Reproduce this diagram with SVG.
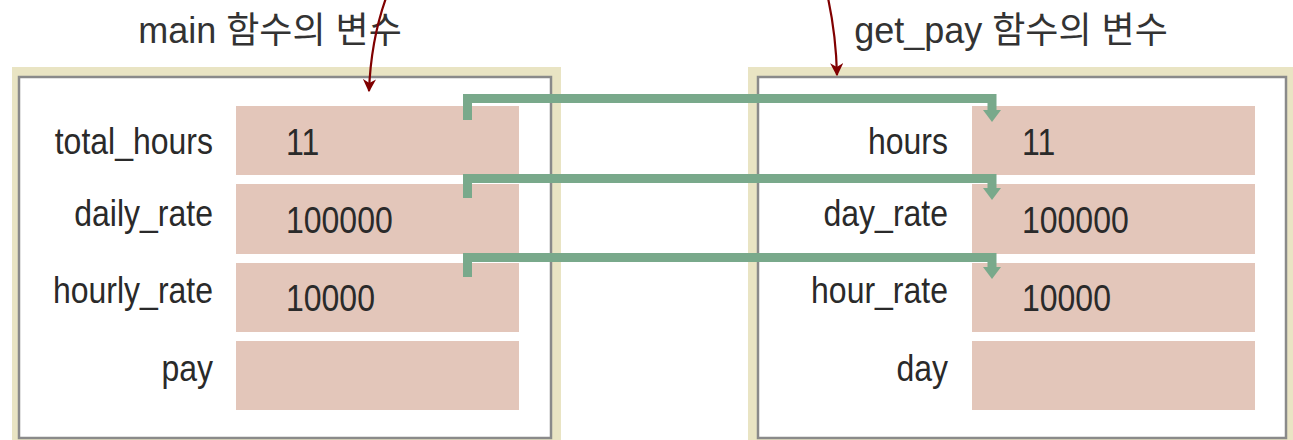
<svg xmlns="http://www.w3.org/2000/svg" width="1293" height="440" viewBox="0 0 1293 440">
<style>
.frame{fill:#e9e4c3}
.inner{fill:#ffffff;stroke:#8a8a8a;stroke-width:2.5}
.box{fill:#e3c6ba}
.title{font-family:"Liberation Sans","Noto Sans CJK KR",sans-serif;font-size:36px;fill:#333333;text-anchor:middle}
.lbl{font-family:"Liberation Sans",sans-serif;font-size:32px;fill:#2a2a2a;text-anchor:end}
.val{font-family:"Liberation Sans",sans-serif;font-size:32px;fill:#2a2a2a}
.link{fill:none;stroke:#79a98b;stroke-width:9;stroke-linejoin:miter}
.head{fill:#79a98b}
.red{fill:none;stroke:#800000;stroke-width:2.2}
</style>
<defs>
<marker id="redhead" viewBox="0 0 10 10" refX="9" refY="5" markerWidth="6" markerHeight="6" markerUnits="strokeWidth" orient="auto">
<path d="M0,0 L10,5 L0,10 L3,5 Z" fill="#800000"/>
</marker>
</defs>
<g id="title-main"><text class="title" x="270" y="43">main 함수의 변수</text></g>
<g id="title-getpay"><text class="title" x="1011" y="43">get_pay 함수의 변수</text></g>
<g id="panel-main">
<rect class="frame" x="12" y="67" width="549" height="380"/>
<rect class="inner" x="19" y="77" width="532" height="361"/>
</g>
<g id="panel-getpay">
<rect class="frame" x="748" y="67" width="550" height="380"/>
<rect class="inner" x="758" y="77" width="528" height="361"/>
</g>
<g id="main-total_hours"><rect class="box" x="236" y="106" width="283" height="69"/><text class="lbl" transform="translate(213,154) scale(1,1.15)">total_hours</text><text class="val" transform="translate(286,155) scale(1,1.15)">11</text></g>
<g id="main-daily_rate"><rect class="box" x="236" y="184" width="283" height="70"/><text class="lbl" transform="translate(213,226) scale(1,1.15)">daily_rate</text><text class="val" transform="translate(286,233) scale(1,1.15)">100000</text></g>
<g id="main-hourly_rate"><rect class="box" x="236" y="263" width="283" height="69"/><text class="lbl" transform="translate(213,303) scale(1,1.15)">hourly_rate</text><text class="val" transform="translate(286,311) scale(1,1.15)">10000</text></g>
<g id="main-pay"><rect class="box" x="236" y="341" width="283" height="69"/><text class="lbl" transform="translate(213,381) scale(1,1.15)">pay</text></g>
<g id="getpay-hours"><rect class="box" x="972" y="106" width="283" height="69"/><text class="lbl" transform="translate(948,154) scale(1,1.15)">hours</text><text class="val" transform="translate(1022,155) scale(1,1.15)">11</text></g>
<g id="getpay-day_rate"><rect class="box" x="972" y="184" width="283" height="70"/><text class="lbl" transform="translate(948,226) scale(1,1.15)">day_rate</text><text class="val" transform="translate(1022,233) scale(1,1.15)">100000</text></g>
<g id="getpay-hour_rate"><rect class="box" x="972" y="263" width="283" height="69"/><text class="lbl" transform="translate(948,303) scale(1,1.15)">hour_rate</text><text class="val" transform="translate(1022,311) scale(1,1.15)">10000</text></g>
<g id="getpay-day"><rect class="box" x="972" y="341" width="283" height="69"/><text class="lbl" transform="translate(948,381) scale(1,1.15)">day</text></g>
<g id="connectors">
<path class="link" d="M467.5,120 V98.5 H992 V112"/>
<polygon class="head" points="983,110 1001,110 992,122"/>
<path class="link" d="M467.5,198 V178.5 H992 V190"/>
<polygon class="head" points="983,188 1001,188 992,200"/>
<path class="link" d="M467.5,277 V257.5 H992 V269"/>
<polygon class="head" points="983,267 1001,267 992,279"/>
<path class="red" d="M386,-2 Q371,40 369,91" marker-end="url(#redhead)"/>
<path class="red" d="M828,-2 Q836,35 837,75" marker-end="url(#redhead)"/>
</g>
</svg>
